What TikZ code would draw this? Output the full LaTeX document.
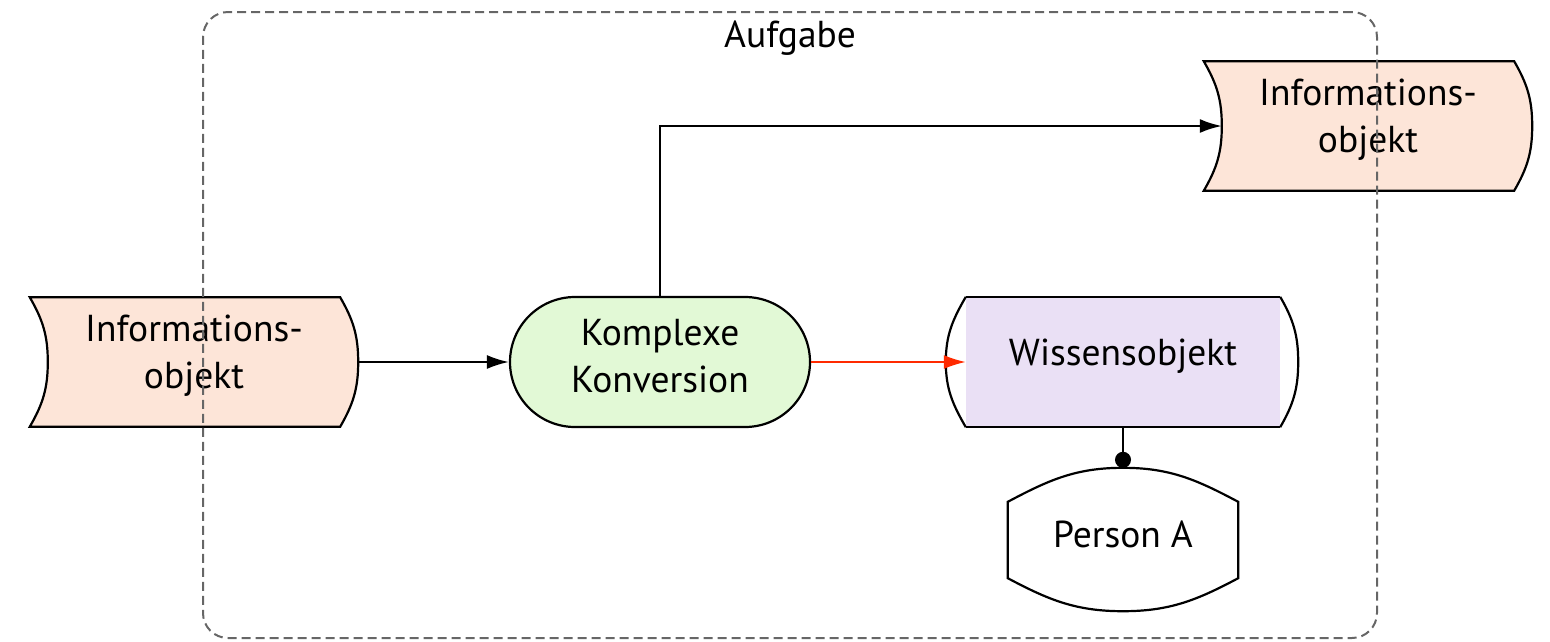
\documentclass[tikz,border=0pt]{standalone}
\usepackage{fontspec}
\setmainfont{PT Sans}
\usetikzlibrary{arrows.meta,backgrounds}
\definecolor{peach}{HTML}{FDE5D8}
\definecolor{mint}{HTML}{E2F9D6}
\definecolor{lav}{HTML}{EAE0F5}
\definecolor{framegray}{HTML}{666666}
\definecolor{redline}{HTML}{FF2A00}
\begin{document}
\begin{tikzpicture}[x=1pt,y=1pt,
  txt/.style={font=\fontsize{37.5}{47}\selectfont, align=center, inner sep=0pt},
  infobox/.style={minimum width=328pt, minimum height=129pt, inner sep=0pt},
  conv/.style={draw, line width=2.2pt, fill=mint, rectangle, rounded corners=65pt, minimum width=300pt, minimum height=130pt, inner sep=0pt},
  wissen/.style={minimum width=314pt, minimum height=130pt, inner sep=0pt},
  personbox/.style={minimum width=230pt, minimum height=143pt, inner sep=0pt},
  outline/.style={draw=black, line width=2.2pt},
  arr/.style={line width=2.2pt, -{Latex[length=22pt,width=14pt]}},
  taskframe/.style={draw=framegray, line width=2pt, dash pattern=on 9pt off 5pt, rounded corners=25pt, minimum width=1174pt, minimum height=626pt, inner sep=0pt}
]
\useasboundingbox (0,0) rectangle (1550,-641);

% shape nodes
\node[infobox] (info1) at (194,-362) {};
\node[infobox] (info2) at (1368,-126) {};
\node[conv] (conv) at (660,-362) {};
\node[wissen] (wiss) at (1123,-362) {};
\node[personbox] (pers) at (1123,-539.5) {};

% shapes on background
\begin{pgfonlayer}{background}
\foreach \n in {info1,info2}{
  \path[outline, fill=peach]
    (\n.north west) -- ([xshift=-18pt]\n.north east)
    to[out=-60,in=90] (\n.east)
    to[out=-90,in=60] ([xshift=-18pt]\n.south east)
    -- (\n.south west)
    to[out=60,in=-90] ([xshift=18pt]\n.west)
    to[out=90,in=-60] (\n.north west) -- cycle;
}
\fill[lav] (wiss.north west) rectangle (wiss.south east);
\draw[outline] (wiss.north west) -- (wiss.north east);
\draw[outline] (wiss.south west) -- (wiss.south east);
\draw[outline] (wiss.north west) to[out=-120,in=90] ([xshift=-20pt]wiss.west) to[out=-90,in=120] (wiss.south west);
\draw[outline] (wiss.north east) to[out=-60,in=90] ([xshift=18pt]wiss.east) to[out=-90,in=60] (wiss.south east);
\path[outline, fill=white]
  ([yshift=-34pt]pers.north west) to[out=28,in=180] (pers.north)
  to[out=0,in=152] ([yshift=-34pt]pers.north east)
  -- ([yshift=33pt]pers.south east)
  to[out=-152,in=0] (pers.south)
  to[out=180,in=-28] ([yshift=33pt]pers.south west) -- cycle;
\end{pgfonlayer}

% texts
\node[txt] (info1t) at ([yshift=6pt]info1.center) {Informations-\\objekt};
\node[txt] (info2t) at ([yshift=6pt]info2.center) {Informations-\\objekt};
\node[txt] (convt) at ([yshift=6pt]conv.center) {Komplexe\\Konversion};
\node[txt] (wisst) at ([yshift=6pt]wiss.center) {Wissensobjekt};
\node[txt] (perst) at ([yshift=5pt]pers.center) {Person A};

% frame
\node[taskframe] (task) at (790,-325) {};
\node[txt, anchor=north] (tasklabel) at ([yshift=-10pt]task.north) {Aufgabe};

% connectors
\draw[arr] (info1.east) -- (conv.west);
\draw[arr] (conv.north) |- ([xshift=18pt]info2.west);
\draw[arr, draw=redline, fill=redline, line width=1.8pt] (conv.east) -- (wiss.west);
\draw[line width=2.2pt, -{Circle[length=16pt]}] (wiss.south) -- (pers.north);
\end{tikzpicture}
\end{document}
